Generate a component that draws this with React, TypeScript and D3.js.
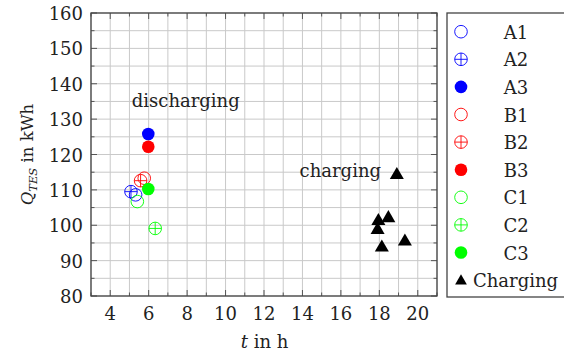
import React from "react";
import * as d3 from "d3";

const seriesNames = ["A1", "A2", "A3", "B1", "B2", "B3", "C1", "C2", "C3"];
const seriesColors = ["#0000ff", "#0000ff", "#0000ff", "#ff0000", "#ff0000", "#ff0000", "#00ff00", "#00ff00", "#00ff00"];
const seriesStyles = ["open", "cross", "filled", "open", "cross", "filled", "open", "cross", "filled"];
const dischargeT = [5.32, 5.08, 5.98, 5.77, 5.58, 5.98, 5.41, 6.34, 5.98];
const dischargeQ = [108.6, 109.5, 125.8, 113.3, 112.6, 122.2, 106.7, 99.1, 110.25];
const chargingT = [18.91, 18.47, 17.95, 17.91, 19.33, 18.13];
const chargingQ = [114.2, 102.0, 101.2, 98.7, 95.4, 93.7];
const xTicks = [4, 6, 8, 10, 12, 14, 16, 18, 20];
const yTicks = [80, 90, 100, 110, 120, 130, 140, 150, 160];

const W = 564, H = 356;
const L = 91, R = 437, T = 13, B = 296;
const FONT = "DejaVu Serif";
const FS = 18;

export default function App() {
  const x = d3.scaleLinear().domain([3, 21]).range([L, R]);
  const y = d3.scaleLinear().domain([80, 160]).range([B, T]);
  const xMinor = d3.range(3, 22, 1);
  const yMinor = d3.range(80, 161, 5);
  const tri = d3.symbol().type(d3.symbolTriangle).size(85)();
  const r = 6.3;

  const marker = (style: string, color: string, cx: number, cy: number, key: string) => {
    if (style === "filled") return <circle key={key} cx={cx} cy={cy} r={r} fill={color} />;
    return (
      <g key={key}>
        <circle cx={cx} cy={cy} r={r} fill="none" stroke={color} strokeWidth={0.9} />
        {style === "cross" && (
          <path d={`M${cx - r},${cy}H${cx + r}M${cx},${cy - r}V${cy + r}`} stroke={color} strokeWidth={0.9} />
        )}
      </g>
    );
  };

  const legX = 447, legY = 13, legW = 120, legH = 284;
  const rowY0 = 31.7, rowDy = 27.6;
  const tp = { fontFamily: FONT, fontSize: FS, fill: "#222" } as any;

  return (
    <svg width={W} height={H} style={{ position: "absolute", left: 0, top: 0, background: "#fff" }}>
      <rect x={0} y={0} width={W} height={H} fill="#fff" />
      {xMinor.map((v) => (
        <line key={"gx" + v} x1={x(v)} x2={x(v)} y1={T} y2={B} stroke="#c9c9c9" strokeWidth={1} />
      ))}
      {yMinor.map((v) => (
        <line key={"gy" + v} x1={L} x2={R} y1={y(v)} y2={y(v)} stroke="#c9c9c9" strokeWidth={1} />
      ))}
      {xMinor.map((v) => {
        const len = xTicks.includes(v) ? 6 : 3.5;
        return (
          <g key={"tx" + v} stroke="#555" strokeWidth={1}>
            <line x1={x(v)} x2={x(v)} y1={B} y2={B - len} />
            <line x1={x(v)} x2={x(v)} y1={T} y2={T + len} />
          </g>
        );
      })}
      {yMinor.map((v) => {
        const len = yTicks.includes(v) ? 6 : 3.5;
        return (
          <g key={"ty" + v} stroke="#555" strokeWidth={1}>
            <line x1={L} x2={L + len} y1={y(v)} y2={y(v)} />
            <line x1={R} x2={R - len} y1={y(v)} y2={y(v)} />
          </g>
        );
      })}
      <rect x={L} y={T} width={R - L} height={B - T} fill="none" stroke="#444" strokeWidth={1.3} />
      {xTicks.map((v) => (
        <text key={"lx" + v} x={x(v)} y={B + 24} textAnchor="middle" {...tp}>{v}</text>
      ))}
      {yTicks.map((v) => (
        <text key={"ly" + v} x={L - 8} y={y(v) + 7} textAnchor="end" {...tp}>{v}</text>
      ))}
      <text x={(L + R) / 2 + 0.5} y={348} textAnchor="middle" {...tp}>
        <tspan fontStyle="italic">t</tspan> in h
      </text>
      <text transform={`translate(33,${(T + B) / 2}) rotate(-90)`} textAnchor="middle" {...tp} fontSize={16.5}>
        <tspan fontStyle="italic">Q</tspan>
        <tspan fontStyle="italic" fontSize={11.5} dy={4}>TES</tspan>
        <tspan dy={-4}> in kWh</tspan>
      </text>
      <text x={x(7.93)} y={y(133.5)} textAnchor="middle" {...tp}>discharging</text>
      <text x={x(15.97)} y={y(113.6)} textAnchor="middle" {...tp}>charging</text>
      {dischargeT.map((t, i) => marker(seriesStyles[i], seriesColors[i], x(t), y(dischargeQ[i]), "d" + i))}
      {chargingT.map((t, i) => (
        <path key={"c" + i} d={tri} transform={`translate(${x(t)},${y(chargingQ[i])})`} fill="#000" />
      ))}
      <rect x={legX} y={legY} width={legW} height={legH} fill="#fff" stroke="#444" strokeWidth={1.3} />
      {seriesNames.map((n, i) => (
        <g key={"lg" + i}>
          {marker(seriesStyles[i], seriesColors[i], 461, rowY0 + i * rowDy, "lm" + i)}
          <text x={516} y={rowY0 + i * rowDy + 7} textAnchor="middle" {...tp}>{n}</text>
        </g>
      ))}
      <path d={d3.symbol().type(d3.symbolTriangle).size(60)()} transform={`translate(461,${rowY0 + 9 * rowDy + 1})`} fill="#000" />
      <text x={473} y={rowY0 + 9 * rowDy + 7} {...tp}>Charging</text>
    </svg>
  );
}
